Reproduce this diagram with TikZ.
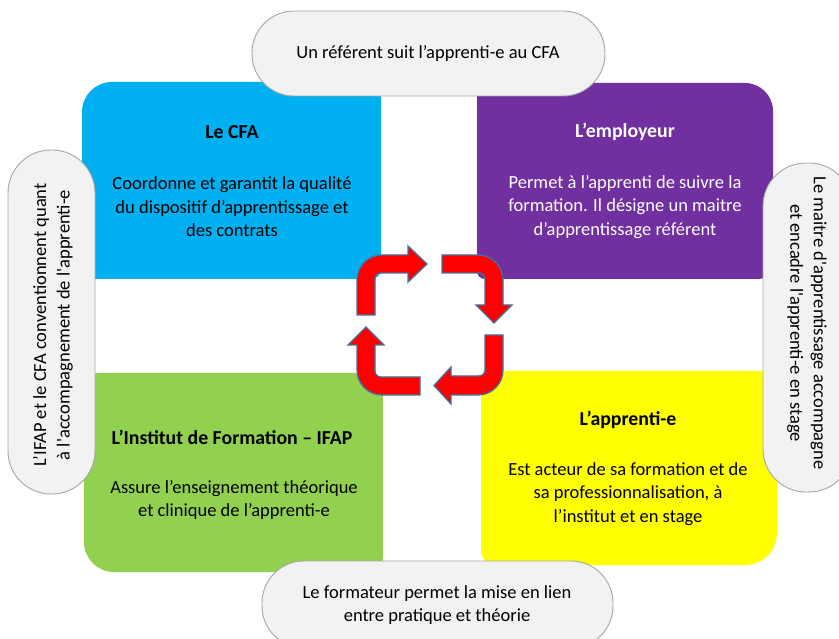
\documentclass[tikz,border=0pt]{standalone}
\usepackage{fontspec}
\setmainfont{Carlito}
\definecolor{cfa}{HTML}{00B0F0}
\definecolor{empl}{HTML}{7030A0}
\definecolor{ifap}{HTML}{92D050}
\definecolor{appr}{HTML}{FFFF00}
\definecolor{bubfill}{HTML}{F2F2F2}
\definecolor{bubline}{HTML}{A6A6A6}
\definecolor{arrline}{HTML}{41719C}
\newcommand{\quadbox}[9]{\fill[#9] ({#1+#5},#2) -- ({#3-#6},#2) arc[start angle=270,end angle=360,radius=#6] -- (#3,{#4-#7}) arc[start angle=0,end angle=90,radius=#7] -- ({#1+#8},#4) arc[start angle=90,end angle=180,radius=#8] -- (#1,{#2+#5}) arc[start angle=180,end angle=270,radius=#5] -- cycle;}
\begin{document}
\begin{tikzpicture}[x=1pt,y=-1pt,
  bubble/.style={fill=bubfill,draw=bubline,line width=0.9pt},
  bodytext/.style={font=\fontsize{18.5}{23.5}\selectfont,align=center,inner sep=0pt},
  titletext/.style={font=\fontsize{19.8}{23}\selectfont\bfseries,inner sep=0pt},
  bentarrow/.style={fill=red,draw=arrline,line width=1.3pt,line join=miter}]
\useasboundingbox (0,0) rectangle (839,639);
\clip (0,0) rectangle (839,639);
% four boxes
\quadbox{82}{82}{381}{279}{30}{15}{10}{12}{cfa}
\quadbox{477}{83}{773}{279}{13}{28}{15}{8}{empl}
\quadbox{84}{373}{383}{572}{15}{15}{15}{30}{ifap}
\quadbox{481}{371}{777}{565}{15}{15}{32}{15}{appr}
% texts in boxes
\node[titletext] (tcfa) at (232,132) {Le CFA};
\node[bodytext] (bcfa) at (232,207) {Coordonne et garantit la qualité\\du dispositif d’apprentissage et\\des contrats};
\node[titletext,text=white] (templ) at (625,132) {L’employeur};
\node[bodytext,text=white] (bempl) at (625,207) {Permet à l’apprenti de suivre la\\formation. Il désigne un maitre\\d’apprentissage référent};
\node[titletext] (tifap) at (232,437) {L’Institut de Formation – IFAP};
\node[bodytext] (bifap) at (234,500) {Assure l’enseignement théorique\\et clinique de l’apprenti-e};
\node[titletext] (tappr) at (628,420) {L’apprenti-e};
\node[bodytext] (bappr) at (628,494) {Est acteur de sa formation et de\\sa professionnalisation, à\\l’institut et en stage};
% cycle arrows
\filldraw[bentarrow] (357,315) -- (357,280) arc[start angle=180,end angle=270,radius=25] -- (408,255) -- (408,246) -- (427,264) -- (408,282) -- (408,273) -- (381,273) arc[start angle=270,end angle=180,radius=6] -- (375,315) -- cycle;
\filldraw[bentarrow] (442,255) -- (478,255) arc[start angle=270,end angle=360,radius=25] -- (503,305) -- (512,305) -- (494,323) -- (476,305) -- (485,305) -- (485,279) arc[start angle=0,end angle=-90,radius=6] -- (442,273) -- cycle;
\filldraw[bentarrow] (503,335) -- (503,370) arc[start angle=0,end angle=90,radius=25] -- (451,395) -- (451,404) -- (434,385.5) -- (451,367) -- (451,376) -- (479,376) arc[start angle=90,end angle=0,radius=6] -- (485,335) -- cycle;
\filldraw[bentarrow] (420,395) -- (382,395) arc[start angle=90,end angle=180,radius=25] -- (357,345) -- (348,345) -- (366,327) -- (384,345) -- (375,345) -- (375,371) arc[start angle=180,end angle=90,radius=6] -- (420,377) -- cycle;
% bubbles
\draw[bubble,rounded corners=42pt] (252,11) rectangle (605,96);
\node[bodytext] (top) at (428,53) {Un référent suit l’apprenti-e au CFA};
\draw[bubble,rounded corners=42pt] (262,561) rectangle (613,648);
\node[bodytext] (bot) at (437,605) {Le formateur permet la mise en lien\\entre pratique et théorie};
\draw[bubble,rounded corners=43pt] (8,150) rectangle (95,494);
\node[bodytext,rotate=90] (left) at (53,325) {L’IFAP et le CFA conventionnent quant\\à l\textquotesingle accompagnement de l\textquotesingle apprenti-e};
\draw[bubble,rounded corners=43pt] (763,163) rectangle (852,492);
\node[bodytext,rotate=-90] (right) at (807,323) {Le maitre d\textquotesingle apprentissage accompagne\\et encadre l\textquotesingle apprenti-e en stage};
\end{tikzpicture}
\end{document}
